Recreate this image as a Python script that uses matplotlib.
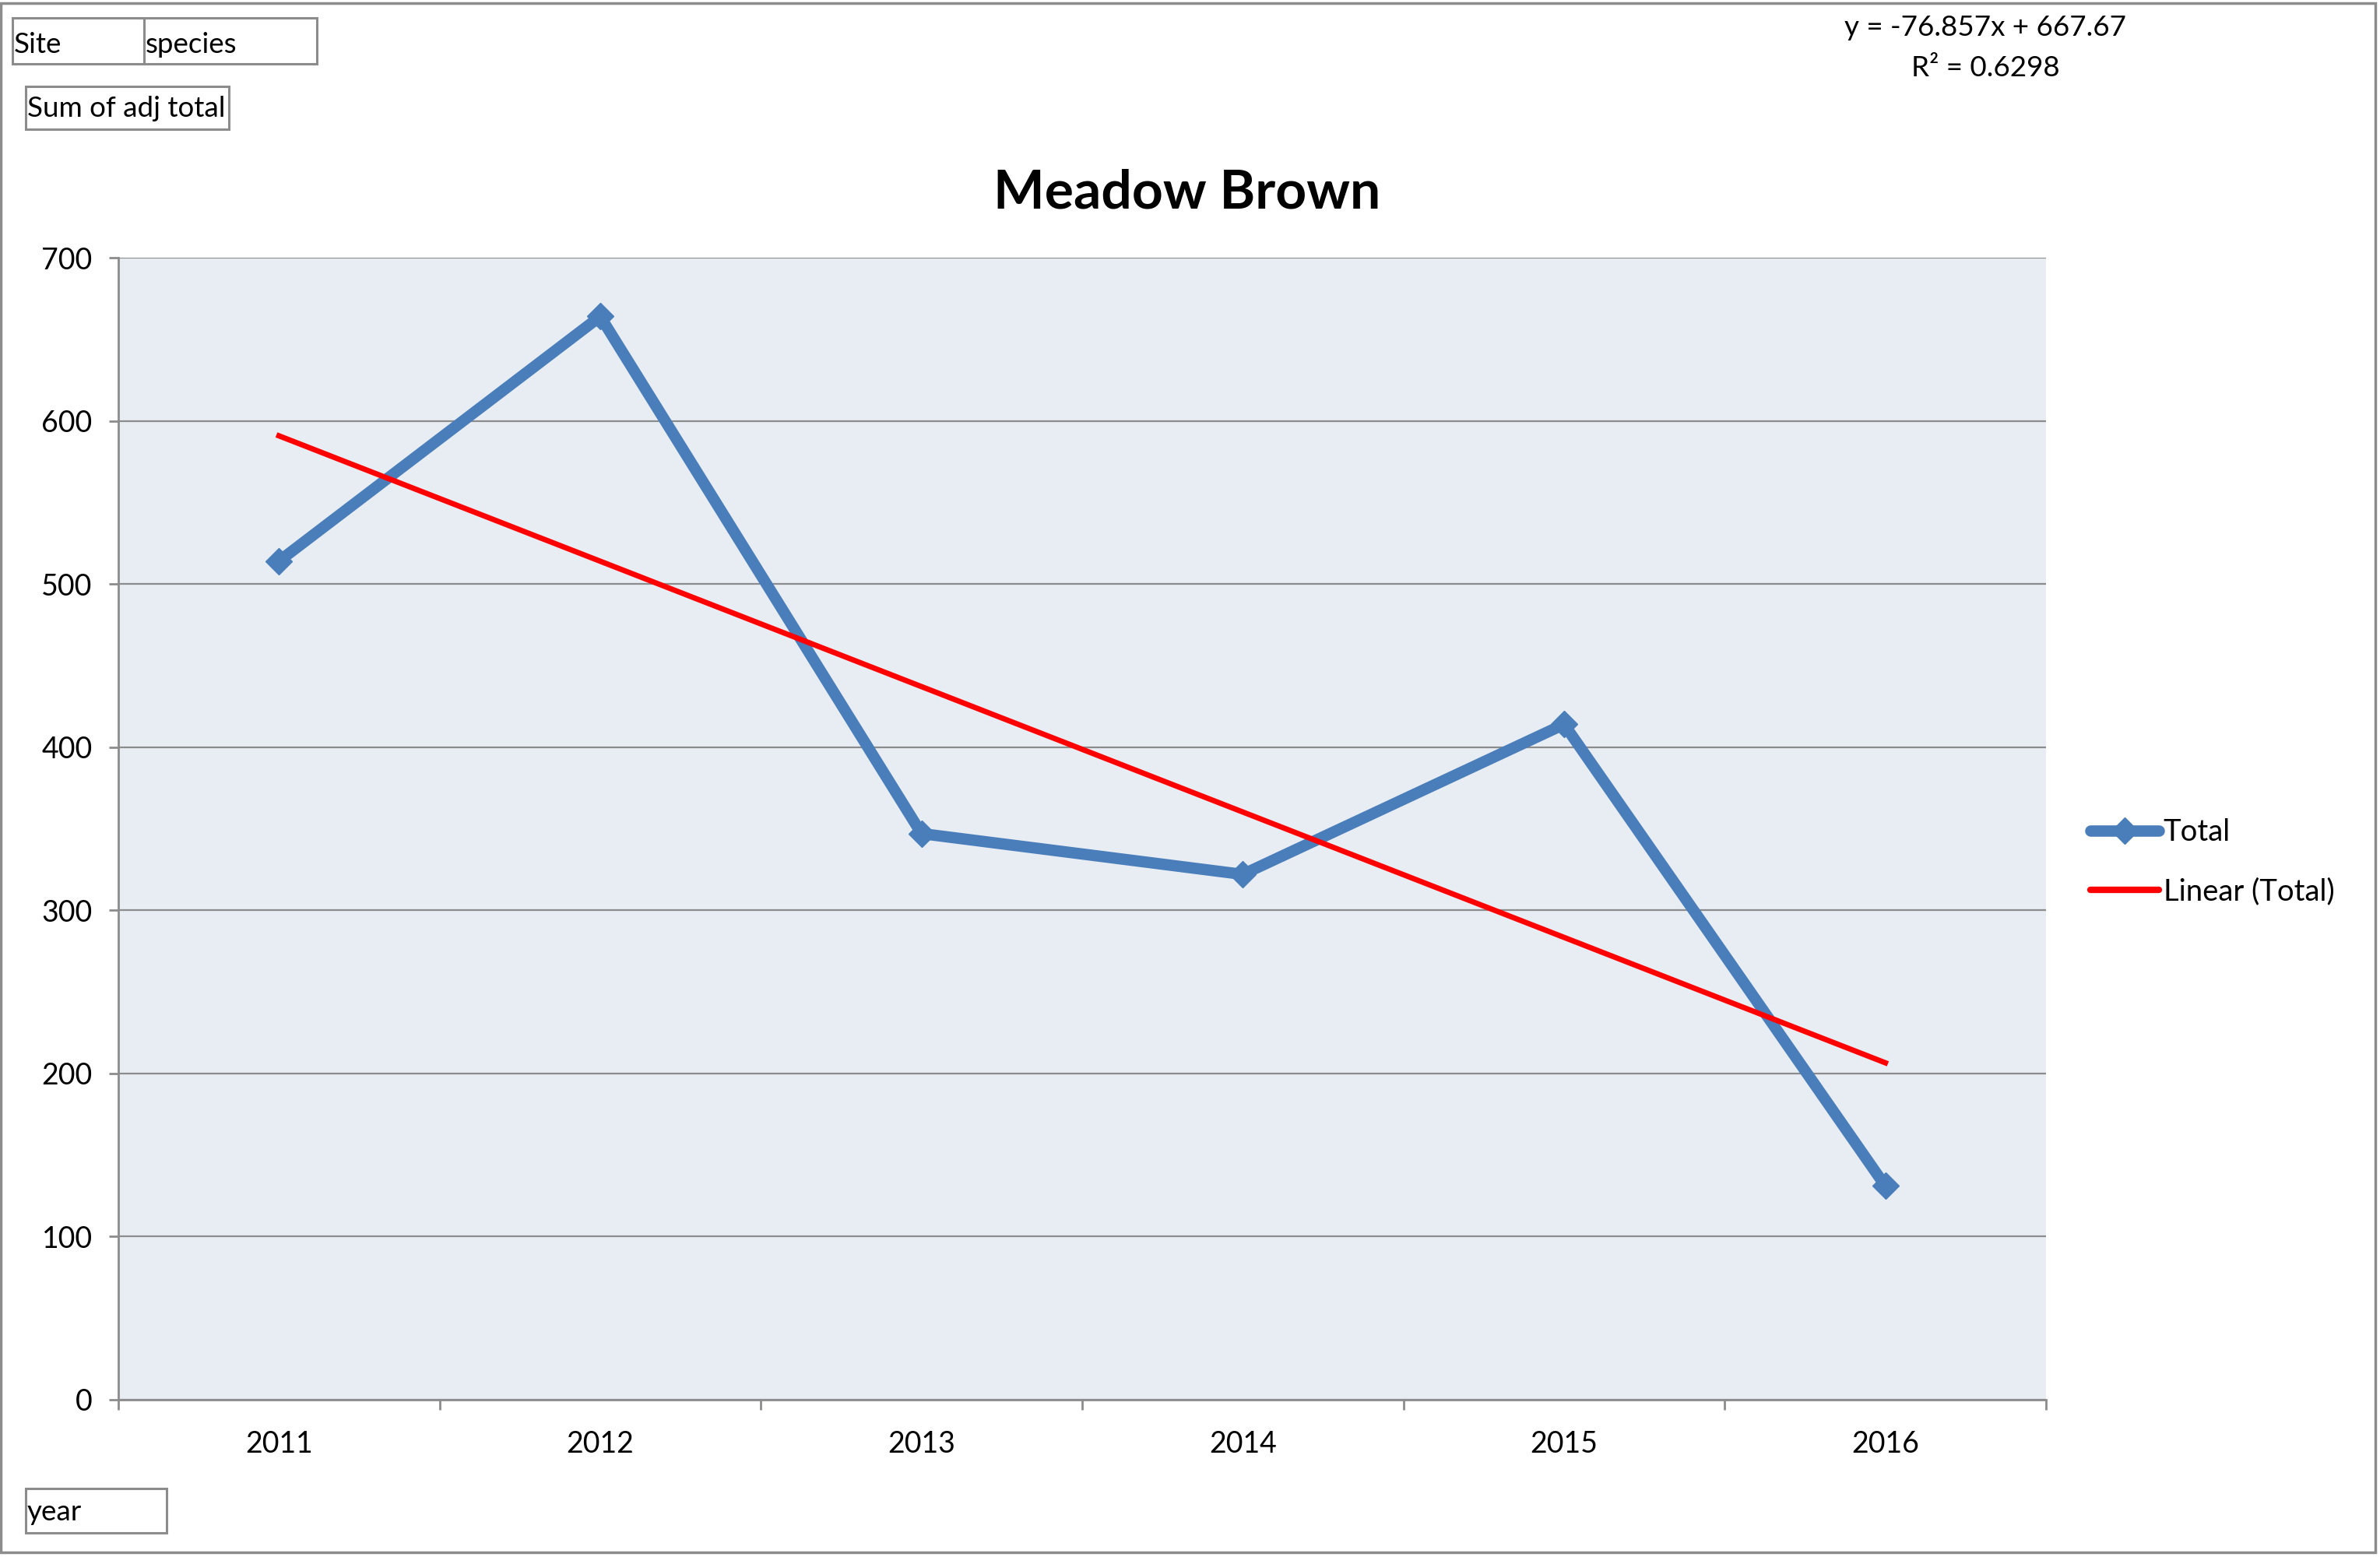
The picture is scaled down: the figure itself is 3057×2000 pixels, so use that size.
import numpy as np
from matplotlib import pyplot as plt
from matplotlib.lines import Line2D
from matplotlib.patches import Rectangle

years = ["2011", "2012", "2013", "2014", "2015", "2016"]
totals = [514, 664, 347, 322, 414, 131]
y_ticks = [0, 100, 200, 300, 400, 500, 600, 700]

FIG_W, FIG_H = 3057, 2000
GREY = "#8C8C8C"
BLUE = "#4A7EBB"
RED = "#FF0000"

plt.rcParams['font.family'] = ['Lato', 'DejaVu Sans']


def px(x, y):
    """Convert pixel coords (top-left origin) to figure fraction."""
    return x / FIG_W, 1 - y / FIG_H


def field_box(fig, x0, y0, x1, y1, label, baseline):
    """Draw a grey-bordered pivot field button with its label."""
    fx, fy = px(x0, y1)
    fig.patches.append(Rectangle((fx, fy), (x1 - x0) / FIG_W,
                                 (y1 - y0) / FIG_H, transform=fig.transFigure,
                                 fill=False, edgecolor=GREY, lw=2.2))
    tx, ty = px(x0 + 2, baseline)
    fig.text(tx, ty, label, ha="left", va="baseline", fontsize=26.5)


def main() -> None:
    fig = plt.figure(figsize=(FIG_W / 100, FIG_H / 100), dpi=100)
    ax = fig.add_axes([152 / FIG_W, 1 - 1798 / FIG_H,
                       (2628 - 152) / FIG_W, (1798 - 331) / FIG_H])
    ax.set_facecolor("#E8EDF4")

    x = np.arange(1, len(years) + 1)
    ax.plot(x, totals, color=BLUE, lw=10.5, marker="D", markersize=17,
            solid_capstyle="round", zorder=3)

    slope, intercept = np.polyfit(x, totals, 1)
    fit = slope * x + intercept
    r2 = 1 - np.sum((np.array(totals) - fit) ** 2) / \
        np.sum((np.array(totals) - np.mean(totals)) ** 2)
    ax.plot([x[0], x[-1]], [fit[0], fit[-1]], color=RED, lw=5, zorder=4)

    ax.set_ylim(0, 700)
    ax.set_yticks(y_ticks)
    ax.yaxis.grid(True, color=GREY, lw=1.6)
    ax.set_axisbelow(True)
    ax.set_xlim(0.5, len(years) + 0.5)
    ax.set_xticks(x, labels=years)
    ax.set_xticks(np.arange(0.5, len(years) + 1), minor=True)

    for side in ("top", "right"):
        ax.spines[side].set_visible(False)
    for side in ("left", "bottom"):
        ax.spines[side].set_color(GREY)
        ax.spines[side].set_linewidth(2)

    ax.tick_params(axis="y", length=9, width=2, color=GREY, pad=15,
                   labelsize=27)
    ax.tick_params(axis="x", which="major", length=0, pad=28, labelsize=27)
    ax.tick_params(axis="x", which="minor", length=9, width=2, color=GREY)

    tx, ty = px(1525, 248)
    fig.text(tx, ty, "Meadow Brown", ha="center", va="center",
             fontsize=50, fontweight="bold")

    ex, ey = px(2550, 36)
    fig.text(ex, ey, f"y = {slope:.3f}x + {intercept:.2f}", ha="center",
             va="center", fontsize=26.5)
    ex, ey = px(2550, 87)
    fig.text(ex, ey, f"R² = {r2:.4f}", ha="center", va="center",
             fontsize=26.5)

    handles = [
        Line2D([], [], color=BLUE, lw=10.5, marker="D", markersize=17,
               solid_capstyle="round"),
        Line2D([], [], color=RED, lw=6, solid_capstyle="round"),
    ]
    lx, ly = px(2685, 1107)
    fig.legend(handles, ["Total", "Linear (Total)"], loc="center left",
               bbox_to_anchor=(lx, ly), frameon=False, fontsize=27.5,
               handlelength=2.3, handletextpad=0.15, labelspacing=1.05,
               borderpad=0, borderaxespad=0, numpoints=1)

    field_box(fig, 16, 23, 185, 82, "Site", 68)
    field_box(fig, 185, 23, 407, 82, "species", 68)
    field_box(fig, 33, 111, 294, 166, "Sum of adj total", 150)
    field_box(fig, 33, 1912, 214, 1969, "year", 1953)

    fig.patches.append(Rectangle((1 / FIG_W, 6 / FIG_H), 3050 / FIG_W,
                                 1990 / FIG_H, transform=fig.transFigure,
                                 fill=False, edgecolor=GREY, lw=2.5))

    fig.savefig("out.png", dpi=100)


if __name__ == "__main__":
    main()
